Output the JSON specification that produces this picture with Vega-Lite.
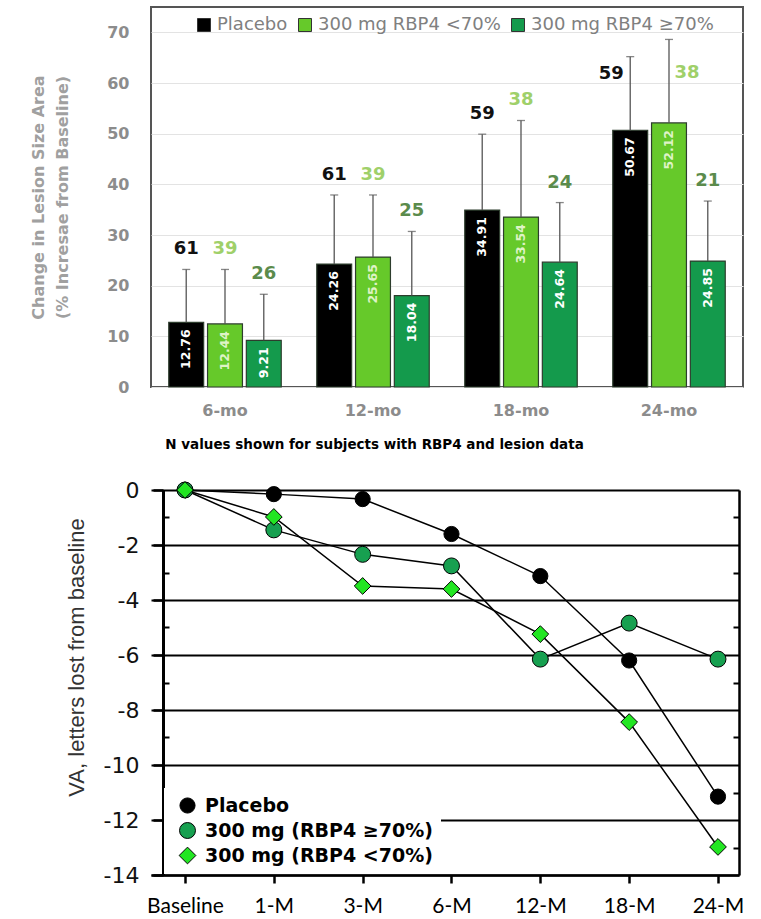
{
  "$schema": "https://vega.github.io/schema/vega-lite/v6.json",
  "padding": {"left": 29, "top": 6, "right": 0, "bottom": 0},
  "background": "white",
  "spacing": 27,
  "columns": 1,
  "resolve": {
    "scale": {"color": "independent", "shape": "independent", "size": "independent"},
    "legend": {"color": "independent", "shape": "independent"}
  },
  "datasets": {
    "lesion": [
      {"time": "6-mo", "group": "Placebo", "value": 12.76, "upper": 23.2, "n": 61},
      {"time": "6-mo", "group": "300 mg RBP4 <70%", "value": 12.44, "upper": 23.2, "n": 39},
      {"time": "6-mo", "group": "300 mg RBP4 ≥70%", "value": 9.21, "upper": 18.3, "n": 26},
      {"time": "12-mo", "group": "Placebo", "value": 24.26, "upper": 37.9, "n": 61},
      {"time": "12-mo", "group": "300 mg RBP4 <70%", "value": 25.65, "upper": 37.9, "n": 39},
      {"time": "12-mo", "group": "300 mg RBP4 ≥70%", "value": 18.04, "upper": 30.7, "n": 25},
      {"time": "18-mo", "group": "Placebo", "value": 34.91, "upper": 49.9, "n": 59},
      {"time": "18-mo", "group": "300 mg RBP4 <70%", "value": 33.54, "upper": 52.6, "n": 38},
      {"time": "18-mo", "group": "300 mg RBP4 ≥70%", "value": 24.64, "upper": 36.4, "n": 24},
      {"time": "24-mo", "group": "Placebo", "value": 50.67, "upper": 65.2, "n": 59},
      {"time": "24-mo", "group": "300 mg RBP4 <70%", "value": 52.12, "upper": 68.6, "n": 38},
      {"time": "24-mo", "group": "300 mg RBP4 ≥70%", "value": 24.85, "upper": 36.7, "n": 21}
    ],
    "va": [
      {"series": "Placebo", "time": "Baseline", "i": 0, "va": 0},
      {"series": "Placebo", "time": "1-M", "i": 1, "va": -0.15},
      {"series": "Placebo", "time": "3-M", "i": 2, "va": -0.33},
      {"series": "Placebo", "time": "6-M", "i": 3, "va": -1.6},
      {"series": "Placebo", "time": "12-M", "i": 4, "va": -3.13},
      {"series": "Placebo", "time": "18-M", "i": 5, "va": -6.2},
      {"series": "Placebo", "time": "24-M", "i": 6, "va": -11.15},
      {"series": "300 mg (RBP4 ≥70%)", "time": "Baseline", "i": 0, "va": 0},
      {"series": "300 mg (RBP4 ≥70%)", "time": "1-M", "i": 1, "va": -1.45},
      {"series": "300 mg (RBP4 ≥70%)", "time": "3-M", "i": 2, "va": -2.34},
      {"series": "300 mg (RBP4 ≥70%)", "time": "6-M", "i": 3, "va": -2.76},
      {"series": "300 mg (RBP4 ≥70%)", "time": "12-M", "i": 4, "va": -6.15},
      {"series": "300 mg (RBP4 ≥70%)", "time": "18-M", "i": 5, "va": -4.84},
      {"series": "300 mg (RBP4 ≥70%)", "time": "24-M", "i": 6, "va": -6.15},
      {"series": "300 mg (RBP4 <70%)", "time": "Baseline", "i": 0, "va": 0},
      {"series": "300 mg (RBP4 <70%)", "time": "1-M", "i": 1, "va": -0.98},
      {"series": "300 mg (RBP4 <70%)", "time": "3-M", "i": 2, "va": -3.49},
      {"series": "300 mg (RBP4 <70%)", "time": "6-M", "i": 3, "va": -3.6},
      {"series": "300 mg (RBP4 <70%)", "time": "12-M", "i": 4, "va": -5.24},
      {"series": "300 mg (RBP4 <70%)", "time": "18-M", "i": 5, "va": -8.44},
      {"series": "300 mg (RBP4 <70%)", "time": "24-M", "i": 6, "va": -12.98}
    ]
  },
  "concat": [
    {
      "width": 592,
      "height": 380,
      "data": {"name": "lesion"},
      "view": {"stroke": "#555555", "strokeWidth": 2},
      "encoding": {
        "x": {
          "field": "time", "type": "nominal",
          "sort": ["6-mo", "12-mo", "18-mo", "24-mo"],
          "scale": {"paddingInner": 0.24, "paddingOuter": 0.12},
          "axis": {
            "title": "N values shown for subjects with RBP4 and lesion data",
            "titleFont": "DejaVu Sans", "titleFontSize": 13.5, "titleFontWeight": "bold", "titleColor": "black",
            "titleX": 223, "titleY": 50, "titleBaseline": "top", "titleAlign": "center",
            "labelAngle": 0, "labelFont": "DejaVu Sans", "labelFontSize": 16, "labelFontWeight": "bold",
            "labelColor": "#8c8c8c", "labelPadding": 15, "ticks": false, "domain": false
          }
        },
        "xOffset": {
          "field": "group", "type": "nominal",
          "sort": ["Placebo", "300 mg RBP4 <70%", "300 mg RBP4 ≥70%"],
          "scale": {"paddingInner": 0.1}
        }
      },
      "layer": [
        {
          "mark": {"type": "bar", "stroke": "#2d3d2d", "strokeWidth": 1.2},
          "encoding": {
            "y": {
              "field": "value", "type": "quantitative",
              "scale": {"domain": [0, 75], "nice": false},
              "axis": {
                "title": ["Change in Lesion Size Area", "(% Incresae from Baseline)"],
                "values": [0, 10, 20, 30, 40, 50, 60, 70],
                "grid": true, "gridColor": "#e3e3e3", "ticks": false, "domain": false,
                "labelFont": "DejaVu Sans", "labelFontSize": 16, "labelFontWeight": "bold",
                "labelColor": "#8c8c8c", "labelPadding": 22,
                "titleFont": "DejaVu Sans", "titleFontSize": 16, "titleFontWeight": "bold",
                "titleColor": "#a0a0a0", "titlePadding": 36, "titleLineHeight": 24
              }
            },
            "color": {
              "field": "group", "type": "nominal",
              "scale": {"domain": ["Placebo", "300 mg RBP4 <70%", "300 mg RBP4 ≥70%"], "range": ["#000000", "#66c92a", "#149a4c"]},
              "legend": {
                "orient": "none", "legendX": 44, "legendY": 9, "direction": "horizontal", "title": null,
                "symbolType": "square", "symbolSize": 169, "symbolStrokeColor": "#333333", "symbolStrokeWidth": 1,
                "labelFont": "DejaVu Sans", "labelFontSize": 18, "labelFontWeight": "normal", "labelColor": "#808080",
                "labelOffset": 4, "columnPadding": 8, "labelLimit": 300
              }
            }
          }
        },
        {
          "mark": {"type": "rule", "color": "#555555", "strokeWidth": 1.3},
          "encoding": {
            "y": {"field": "value", "type": "quantitative"},
            "y2": {"field": "upper"}
          }
        },
        {
          "mark": {"type": "tick", "color": "#555555", "thickness": 1.3, "size": 8, "orient": "horizontal"},
          "encoding": {
            "y": {"field": "upper", "type": "quantitative"}
          }
        },
        {
          "mark": {"type": "text", "angle": 270, "align": "right", "baseline": "middle", "dx": -7, "font": "DejaVu Sans", "fontSize": 12.5, "fontWeight": "bold"},
          "encoding": {
            "y": {"field": "value", "type": "quantitative"},
            "text": {"field": "value", "type": "quantitative", "format": ".2f"},
            "color": {"condition": {"test": "datum.group === '300 mg RBP4 <70%'", "value": "#dff3c6"}, "value": "white"}
          }
        },
        {
          "transform": [{"filter": "!(datum.time === '24-mo' && datum.group !== '300 mg RBP4 ≥70%')"}],
          "mark": {"type": "text", "baseline": "middle", "dy": -20, "font": "DejaVu Sans", "fontSize": 18, "fontWeight": "bold"},
          "encoding": {
            "y": {"field": "upper", "type": "quantitative"},
            "text": {"field": "n", "type": "quantitative"},
            "color": {"condition": [{"test": "datum.group === 'Placebo'", "value": "#111111"}, {"test": "datum.group === '300 mg RBP4 <70%'", "value": "#9fd06a"}], "value": "#5b8b4c"}
          }
        },
        {
          "transform": [{"filter": "datum.time === '24-mo' && datum.group === 'Placebo'"}],
          "mark": {"type": "text", "baseline": "middle", "dx": -19, "dy": 17, "font": "DejaVu Sans", "fontSize": 18, "fontWeight": "bold", "color": "#111111"},
          "encoding": {
            "y": {"field": "upper", "type": "quantitative"},
            "text": {"field": "n", "type": "quantitative"}
          }
        },
        {
          "transform": [{"filter": "datum.time === '24-mo' && datum.group === '300 mg RBP4 <70%'"}],
          "mark": {"type": "text", "baseline": "middle", "dx": 18, "dy": 34, "font": "DejaVu Sans", "fontSize": 18, "fontWeight": "bold", "color": "#9fd06a"},
          "encoding": {
            "y": {"field": "upper", "type": "quantitative"},
            "text": {"field": "n", "type": "quantitative"}
          }
        }
      ]
    },
    {
      "width": 588,
      "height": 385,
      "data": {"name": "va"},
      "view": {"stroke": null},
      "encoding": {
        "x": {
          "field": "time", "type": "ordinal",
          "sort": ["Baseline", "1-M", "3-M", "6-M", "12-M", "18-M", "24-M"],
          "scale": {"type": "point", "padding": 0.3096, "align": 0.618},
          "axis": {
            "title": null, "labelAngle": 0, "labelFont": "Lato", "labelFontSize": 21, "labelColor": "black",
            "labelPadding": 12, "tickSize": 8, "tickWidth": 2.5, "tickColor": "black",
            "domainWidth": 2.5, "domainColor": "black"
          }
        }
      },
      "layer": [
        {
          "mark": {"type": "line", "color": "black", "strokeWidth": 1.5},
          "encoding": {
            "y": {
              "field": "va", "type": "quantitative",
              "scale": {"domain": [-14, 0], "nice": false, "zero": false},
              "axis": {
                "orient": "left", "offset": -12,
                "values": [0, -2, -4, -6, -8, -10, -12, -14],
                "grid": true, "gridColor": "black", "gridWidth": 2.2, "gridOpacity": 1,
                "tickSize": 10, "tickWidth": 2.5, "tickColor": "black",
                "domainColor": "black", "domainWidth": 3,
                "labelFont": "DejaVu Sans", "labelFontSize": 22, "labelColor": "#111111", "labelPadding": 14,
                "labelExpr": "datum.value == 0 ? '0' : '-' + abs(datum.value)",
                "title": "VA, letters lost from baseline",
                "titleFont": "Liberation Sans", "titleFontSize": 22, "titleFontWeight": "normal", "titleColor": "#333333",
                "titleX": -87, "titleY": 167, "titleAlign": "center", "titleBaseline": "middle", "titleAngle": 270
              }
            },
            "detail": {"field": "series", "type": "nominal"},
            "order": {"field": "i", "type": "quantitative"}
          }
        },
        {
          "mark": {"type": "line", "opacity": 0},
          "encoding": {
            "y": {
              "field": "va", "type": "quantitative",
              "axis": {
                "orient": "right", "values": [-1, -3, -5, -7, -9, -11, -13],
                "tickSize": -6, "tickWidth": 2, "tickColor": "black",
                "labels": false, "domain": true, "domainColor": "black", "domainWidth": 2.5,
                "grid": false, "title": null
              }
            },
            "detail": {"field": "series", "type": "nominal"}
          }
        },
        {
          "mark": {"type": "point", "filled": true, "stroke": "black", "strokeWidth": 1, "opacity": 1},
          "encoding": {
            "y": {
              "field": "va", "type": "quantitative",
              "axis": {
                "orient": "left", "offset": -12, "values": [-1, -3, -5, -7, -9, -11, -13],
                "tickSize": -6, "tickWidth": 2, "tickColor": "black",
                "labels": false, "domain": false, "grid": false, "title": null
              }
            },
            "color": {
              "field": "series", "type": "nominal",
              "scale": {"domain": ["Placebo", "300 mg (RBP4 ≥70%)", "300 mg (RBP4 <70%)"], "range": ["#000000", "#17a050", "#22e622"]},
              "legend": {
                "orient": "none", "legendX": 13, "legendY": 298, "title": null, "fillColor": "white",
                "padding": 8, "symbolOffset": 6, "symbolSize": 250, "symbolStrokeColor": "black", "symbolStrokeWidth": 1,
                "labelFont": "DejaVu Sans", "labelFontSize": 19, "labelFontWeight": "bold", "labelColor": "black",
                "labelOffset": 8, "rowPadding": 4, "labelLimit": 400
              }
            },
            "shape": {
              "field": "series", "type": "nominal",
              "scale": {"domain": ["Placebo", "300 mg (RBP4 ≥70%)", "300 mg (RBP4 <70%)"], "range": ["circle", "circle", "diamond"]},
              "legend": {
                "orient": "none", "legendX": 13, "legendY": 298, "title": null, "fillColor": "white",
                "padding": 8, "symbolOffset": 6, "symbolSize": 250, "symbolStrokeColor": "black", "symbolStrokeWidth": 1,
                "labelFont": "DejaVu Sans", "labelFontSize": 19, "labelFontWeight": "bold", "labelColor": "black",
                "labelOffset": 8, "rowPadding": 4, "labelLimit": 400
              }
            },
            "size": {
              "field": "series", "type": "nominal",
              "scale": {"domain": ["Placebo", "300 mg (RBP4 ≥70%)", "300 mg (RBP4 <70%)"], "range": [230, 280, 340]},
              "legend": null
            }
          }
        }
      ],
      "resolve": {"axis": {"y": "independent"}}
    }
  ]
}
